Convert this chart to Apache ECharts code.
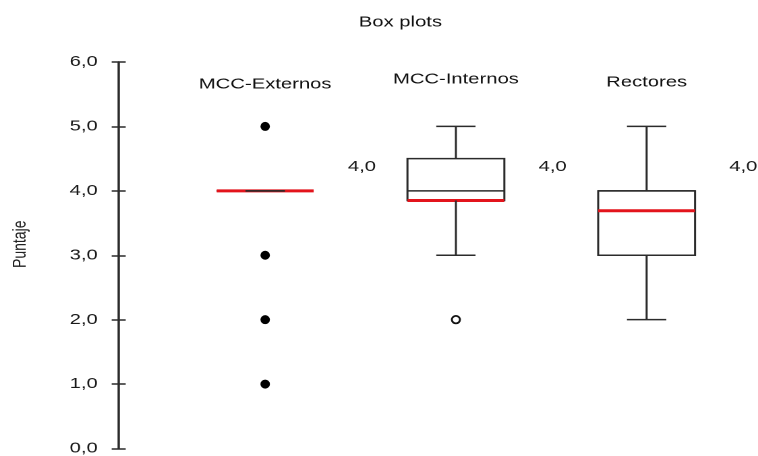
<!DOCTYPE html>
<html>
<head>
<meta charset="utf-8">
<script src="https://cdn.jsdelivr.net/npm/echarts@6/dist/echarts.min.js"></script>
<style>
  html, body { margin: 0; padding: 0; background: #fff; overflow: hidden; }
  #wrap { width: 758px; height: 456px; overflow: hidden; }
  /* the plot is laid out narrow and widened horizontally */
  #chart { width: 562px; height: 456px; transform: scaleX(1.3488); transform-origin: 0 0; }
</style>
</head>
<body>
<div id="wrap"><div id="chart"></div></div>
<script>
// Groups and five-number summaries (puntaje)
const categories  = ['MCC-Externos', 'MCC-Internos', 'Rectores'];
const whiskerLow  = [4.0, 3.0, 2.0];
const quartile1   = [4.0, 3.85, 3.0];
const medians     = [4.0, 4.0, 4.0];
const quartile3   = [4.0, 4.5, 4.0];
const whiskerHigh = [4.0, 5.0, 5.0];
const meanValues  = [4.0, 3.85, 3.69];

// Points beyond the whiskers: filled = extreme, open = outlier
const extremePoints = [[0, 5.0], [0, 3.0], [0, 2.0], [0, 1.0]];
const outlierPoints = [[1, 2.0]];

// Y axis ticks
const yMin = 0, yMax = 6, yStep = 1;

const fmt = v => v.toFixed(1).replace('.', ',');
const INK = '#2b2b2b';
const RED = '#e3141c';
const FONT = 'Arial, "Liberation Sans", sans-serif';

const boxData = categories.map((c, i) => [i, whiskerLow[i], quartile1[i], medians[i], quartile3[i], whiskerHigh[i], meanValues[i]]);

function renderBox(params, api) {
  const idx = api.value(0);
  const band = api.size([1, 0])[0];
  const half = band * 0.254;
  const capHalf = band * 0.103;
  const p = k => api.coord([idx, api.value(k)]);
  const lo = p(1), q1 = p(2), md = p(3), q3 = p(4), hi = p(5), mn = p(6);
  const cx = lo[0];
  const line = (x1, y1, x2, y2, color, w) => ({
    type: 'line',
    shape: { x1, y1, x2, y2 },
    style: { stroke: color, lineWidth: w, lineCap: 'butt' }
  });
  const children = [];
  // box
  children.push({
    type: 'rect',
    shape: { x: cx - half, y: q3[1], width: half * 2, height: q1[1] - q3[1] },
    style: { fill: '#fff', stroke: INK, lineWidth: 1.5 }
  });
  // median
  children.push(line(cx - half, md[1], cx + half, md[1], INK, 1.5));
  // mean (red)
  children.push(line(cx - half, mn[1], cx + half, mn[1], RED, 3));
  // whiskers
  if (hi[1] < q3[1]) children.push(line(cx, q3[1], cx, hi[1], INK, 1.5));
  if (lo[1] > q1[1]) children.push(line(cx, q1[1], cx, lo[1], INK, 1.5));
  // caps
  children.push(line(cx - capHalf, hi[1], cx + capHalf, hi[1], INK, 1.5));
  children.push(line(cx - capHalf, lo[1], cx + capHalf, lo[1], INK, 1.5));
  // median value label
  children.push({
    type: 'text',
    style: {
      text: fmt(api.value(3)),
      x: cx + band * 0.507,
      y: md[1] - 24,
      align: 'center',
      verticalAlign: 'middle',
      fill: '#1a1a1a',
      font: '15px ' + FONT
    }
  });
  return { type: 'group', children };
}

const chart = echarts.init(document.getElementById('chart'), null, { devicePixelRatio: 2 });
const labelStyle = { fontFamily: FONT, fontSize: 15, color: '#111' };
chart.setOption({
  animation: false,
  backgroundColor: '#fff',
  title: {
    text: 'Box plots',
    left: 261,
    top: 10,
    textStyle: { fontFamily: FONT, fontSize: 15, fontWeight: 'normal', color: '#111' }
  },
  grid: { left: 124.6, right: 11.9, top: 62, bottom: 6 },
  xAxis: {
    type: 'category',
    position: 'top',
    data: categories,
    boundaryGap: true,
    axisLine: { show: false },
    axisTick: { show: false },
    splitLine: { show: false },
    axisLabel: {
      margin: -30,
      interval: 0,
      formatter: (v, i) => '{c' + i + '|' + v + '}',
      rich: {
        c0: Object.assign({ padding: [0, 0, 0, 0] }, labelStyle),
        c1: Object.assign({ padding: [0, 0, 5, 0] }, labelStyle),
        c2: Object.assign({ padding: [0, 0, 2, 0] }, labelStyle)
      }
    }
  },
  yAxis: [{
    type: 'value',
    position: 'left',
    offset: 37.9,
    min: yMin, max: yMax, interval: yStep,
    name: 'Puntaje',
    nameLocation: 'middle',
    nameGap: 66,
    nameTextStyle: { fontFamily: FONT, fontSize: 14, color: '#222', padding: [0, 0, 0, 22] },
    axisLine: { show: true, lineStyle: { color: INK, width: 1.5 } },
    axisTick: { show: true, length: 5.2, lineStyle: { color: INK, width: 1.5 } },
    splitLine: { show: false },
    axisLabel: { margin: 15.5, fontFamily: FONT, fontSize: 15, color: '#1a1a1a', formatter: v => fmt(v) }
  }, {
    type: 'value',
    position: 'left',
    offset: 37.9,
    min: yMin, max: yMax, interval: yStep,
    axisLine: { show: true, lineStyle: { color: INK, width: 1.5 } },
    axisTick: { show: true, inside: true, length: 5.2, lineStyle: { color: INK, width: 1.5 } },
    axisLabel: { show: false },
    splitLine: { show: false }
  }],
  series: [{
    type: 'custom',
    renderItem: renderBox,
    data: boxData,
    encode: { x: 0, y: [1, 2, 3, 4, 5, 6] },
    z: 2
  }, {
    type: 'scatter',
    data: extremePoints,
    symbol: 'circle',
    symbolSize: [7, 9],
    itemStyle: { color: '#000', opacity: 1 },
    z: 3
  }, {
    type: 'scatter',
    data: outlierPoints,
    symbol: 'circle',
    symbolSize: [6, 7.5],
    itemStyle: { color: '#fff', borderColor: '#111', borderWidth: 1.6, opacity: 1 },
    z: 3
  }]
});
</script>
</body>
</html>
